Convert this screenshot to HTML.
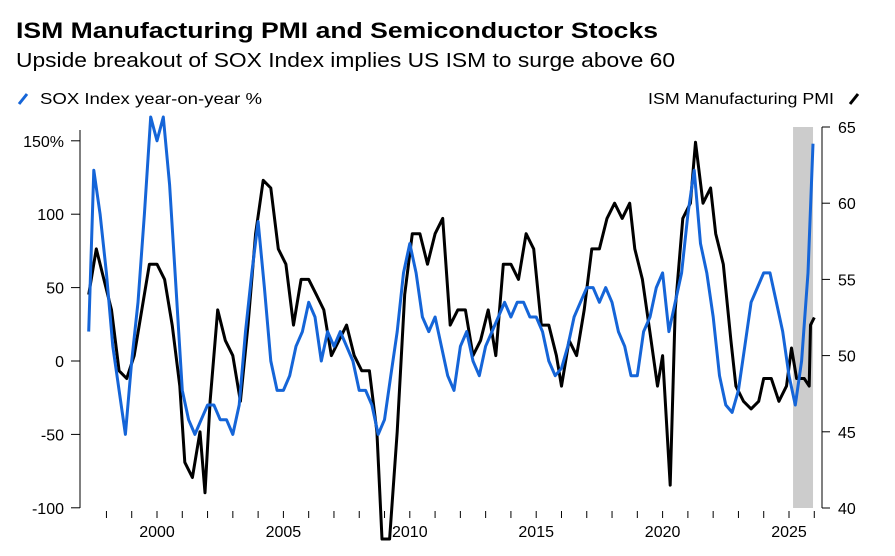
<!DOCTYPE html>
<html><head><meta charset="utf-8">
<style>
html,body{margin:0;padding:0;background:#fff;width:895px;height:556px;overflow:hidden;font-family:"Liberation Sans",sans-serif;}
svg{display:block;overflow:hidden;}
svg text{font-family:"Liberation Sans",sans-serif;}
</style></head>
<body>
<svg id="c" width="895" height="556" viewBox="0 0 895 556">
<text x="16" y="38" font-size="22" font-weight="bold" fill="#000" textLength="642" lengthAdjust="spacingAndGlyphs">ISM Manufacturing PMI and Semiconductor Stocks</text>
<text x="16" y="67" font-size="20" fill="#000" textLength="659" lengthAdjust="spacingAndGlyphs">Upside breakout of SOX Index implies US ISM to surge above 60</text>
<g><line x1="19" y1="104" x2="27" y2="94" stroke="#1565d8" stroke-width="3"/><text x="40" y="104" font-size="16" textLength="222" lengthAdjust="spacingAndGlyphs">SOX Index year-on-year %</text></g>
<g><text x="648" y="104" font-size="16" textLength="186" lengthAdjust="spacingAndGlyphs">ISM Manufacturing PMI</text><line x1="850" y1="104" x2="858" y2="94" stroke="#000" stroke-width="3"/></g>
<g id="g"></g>
</svg>
<script>
const soxYears=[1997.3,1997.5,1997.75,1998,1998.25,1998.5,1998.75,1999,1999.25,1999.5,1999.75,2000,2000.25,2000.5,2000.75,2001,2001.25,2001.5,2001.75,2002,2002.25,2002.5,2002.75,2003,2003.25,2003.5,2003.75,2004,2004.25,2004.5,2004.75,2005,2005.25,2005.5,2005.75,2006,2006.25,2006.5,2006.75,2007,2007.25,2007.5,2007.75,2008,2008.25,2008.5,2008.75,2009,2009.25,2009.5,2009.75,2010,2010.25,2010.5,2010.75,2011,2011.25,2011.5,2011.75,2012,2012.25,2012.5,2012.75,2013,2013.25,2013.5,2013.75,2014,2014.25,2014.5,2014.75,2015,2015.25,2015.5,2015.75,2016,2016.25,2016.5,2016.75,2017,2017.25,2017.5,2017.75,2018,2018.25,2018.5,2018.75,2019,2019.25,2019.5,2019.75,2020,2020.25,2020.5,2020.75,2021,2021.25,2021.5,2021.75,2022,2022.25,2022.5,2022.75,2023,2023.25,2023.5,2023.75,2024,2024.25,2024.5,2024.75,2025,2025.25,2025.5,2025.75,2025.95];
const soxValues=[20,130,100,60,10,-20,-50,0,40,100,170,150,170,120,50,-20,-40,-50,-40,-30,-30,-40,-40,-50,-30,20,60,95,50,0,-20,-20,-10,10,20,40,30,0,20,10,20,10,0,-20,-20,-30,-50,-40,-10,20,60,80,60,30,20,30,10,-10,-20,10,20,0,-10,10,20,30,40,30,40,40,30,30,20,0,-10,-5,10,30,40,50,50,40,50,40,20,10,-10,-10,20,30,50,60,20,40,60,100,130,80,60,30,-10,-30,-35,-20,10,40,50,60,60,40,20,-10,-30,0,60,148];
const pmiYears=[1997.3,1997.6,1997.9,1998.2,1998.5,1998.8,1999.1,1999.4,1999.7,2000.0,2000.3,2000.6,2000.9,2001.1,2001.4,2001.7,2001.9,2002.1,2002.4,2002.7,2003.0,2003.3,2003.6,2003.9,2004.2,2004.5,2004.8,2005.1,2005.4,2005.7,2006.0,2006.3,2006.6,2006.9,2007.2,2007.5,2007.8,2008.1,2008.4,2008.7,2008.9,2009.2,2009.5,2009.8,2010.1,2010.4,2010.7,2011.0,2011.3,2011.6,2011.9,2012.2,2012.5,2012.8,2013.1,2013.4,2013.7,2014.0,2014.3,2014.6,2014.9,2015.2,2015.5,2015.8,2016.0,2016.3,2016.6,2016.9,2017.2,2017.5,2017.8,2018.1,2018.4,2018.7,2018.9,2019.2,2019.5,2019.8,2020.0,2020.3,2020.5,2020.8,2021.1,2021.3,2021.6,2021.9,2022.1,2022.4,2022.7,2022.9,2023.2,2023.5,2023.8,2024.0,2024.3,2024.6,2024.9,2025.1,2025.3,2025.6,2025.8,2025.85,2026.0];
const pmiValues=[54,57,55,53,49,48.5,50,53,56,56,55,52,48,43,42,45,41,47,53,51,50,47,52,58,61.5,61,57,56,52,55,55,54,53,50,51,52,50,49,49,45,34.5,35,45,54,58,58,56,58,59,52,53,53,50,51,53,50,56,56,55,58,57,52,52,50,48,51,50,53,57,57,59,60,59,60,57,55,51.5,48,50,41.5,53,59,60,64,60,61,58,56,51,48,47,46.5,47,48.5,48.5,47,48,50.5,48.5,48.5,48,52,52.5];
const leftTicks=[150,100,50,0,-50,-100];
const leftLabels=["150%","100","50","0","-50","-100"];
const rightTicks=[65,60,55,50,45,40];
const yearLabels=[2000,2005,2010,2015,2020,2025];
const NS='http://www.w3.org/2000/svg';
const g=document.getElementById('g');
const X=y=>157+(y-2000)*25.28;
const YL=v=>361-v*1.468;
const YR=v=>127+(65-v)*15.24;
const clampY=y=>Math.max(117,Math.min(539,y));
function mk(t,a,p){const e=document.createElementNS(NS,t);for(const k in a)e.setAttribute(k,a[k]);(p||g).appendChild(e);return e;}
const band=mk('rect',{x:X(2025.16),y:127,width:X(2025.95)-X(2025.16),height:381,fill:'#cccccc'});


mk('line',{x1:80,y1:130,x2:80,y2:508,stroke:'#000','stroke-width':1});
leftTicks.forEach((v,i)=>{mk('line',{x1:71,y1:YL(v),x2:80,y2:YL(v),stroke:'#000'});
const t=mk('text',{x:64,y:YL(v)+6,'font-size':16,'text-anchor':'end'});t.textContent=leftLabels[i];

});
mk('line',{x1:822,y1:127,x2:822,y2:508,stroke:'#000'});
rightTicks.forEach(v=>{mk('line',{x1:822,y1:YR(v),x2:830,y2:YR(v),stroke:'#000'});
const t=mk('text',{x:838,y:YR(v)+6,'font-size':16});t.textContent=v;

});
for(let y=1998;y<=2026;y++)mk('line',{x1:X(y),y1:511,x2:X(y),y2:518,stroke:'#000'});
yearLabels.forEach(y=>{const t=mk('text',{x:X(y),y:537,'font-size':16,'text-anchor':'middle'});t.textContent=y;

});
function line(xs,vs,f,col,name){const d=xs.map((x,i)=>(i?'L':'M')+X(x).toFixed(1)+','+clampY(f(vs[i])).toFixed(1)).join('');
const p=mk('path',{d:d,fill:'none',stroke:col,'stroke-width':3,'stroke-linejoin':'round'});

}
line(pmiYears,pmiValues,YR,'#000','ism-pmi-line');
line(soxYears,soxValues,YL,'#1565d8','sox-yoy-line');
</script>
</body></html>
